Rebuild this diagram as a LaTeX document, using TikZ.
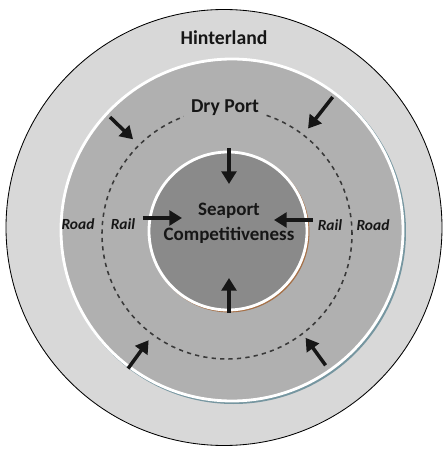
\documentclass[tikz,border=0pt]{standalone}
\usepackage{fontspec}
\setmainfont{Carlito}
\usetikzlibrary{arrows.meta}

\definecolor{ringlight}{RGB}{216,216,216}
\definecolor{ringmid}{RGB}{176,176,176}
\definecolor{ringdark}{RGB}{138,138,138}
\definecolor{shadeblue}{RGB}{118,150,160}
\definecolor{shadebrown}{RGB}{165,112,72}
\definecolor{ink}{RGB}{22,22,22}

\tikzset{
  flow/.style={ink, line width=2.5pt, -{Triangle[length=9pt,width=10.5pt]}},
  lbl/.style={ink, font=\bfseries\fontsize{14}{18}\selectfont},
  mode/.style={ink, font=\bfseries\itshape\fontsize{11}{12}\selectfont},
}

\begin{document}
\begin{tikzpicture}[x=0.025cm, y=0.025cm]
\useasboundingbox (0,0) rectangle (447,450);
\coordinate (c) at (228,219);

% rings
\draw[fill=ringlight, line width=0.6pt] (224,222.5) circle (218);
\fill[shadeblue] (233.5,218.5) circle (172.5);
\draw[white, line width=2pt, fill=ringmid] (232,220) circle (171);
% \draw (232,220) circle (150);
\draw[ink!85, line width=1.1pt, dash pattern=on 3pt off 3pt] (227,216) circle (125);
\fill[shadebrown] (229.2,217.8) circle (80.2);
\draw[white, line width=2pt, fill=ringdark] (c) circle (79);

\node[lbl] (hinter) at (224,412) {Hinterland};
\node[lbl, fill=ringmid, inner sep=5pt] (dry) at (225,342) {Dry Port};
\node[lbl, font=\bfseries\fontsize{13.5}{18}\selectfont, align=center] (sea) at (229,227) {Seaport\\Competitiveness};

\node[mode] (roadW) at (78,226) {Road};
\node[mode] (railW) at (123,226) {Rail};
\node[mode] (railE) at (330,225) {Rail};
\node[mode] (roadE) at (373,225) {Road};

% arrows into the seaport
\coordinate (topA) at (229,302);  \coordinate (topB) at (229,266);
\coordinate (botA) at (229,137);  \coordinate (botB) at (229,172);
\coordinate (lefA) at (143,232);  \coordinate (lefB) at (182,232);
\coordinate (rigA) at (313,230);  \coordinate (rigB) at (274,230);
\draw[flow] (topA) -- (topB);
\draw[flow] (botA) -- (botB);
\draw[flow] (lefA) -- (lefB);
\draw[flow] (rigA) -- (rigB);

% arrows into the dry port
\foreach \ang/\ro/\ri in {136/164/132, 52/170/130, 234/170/135, 306/166/132} {
  \coordinate (d\ang a) at ([shift={(\ang:\ro)}]c);
  \coordinate (d\ang b) at ([shift={(\ang:\ri)}]c);
  \draw[flow] (d\ang a) -- (d\ang b);
}
\end{tikzpicture}
\end{document}
